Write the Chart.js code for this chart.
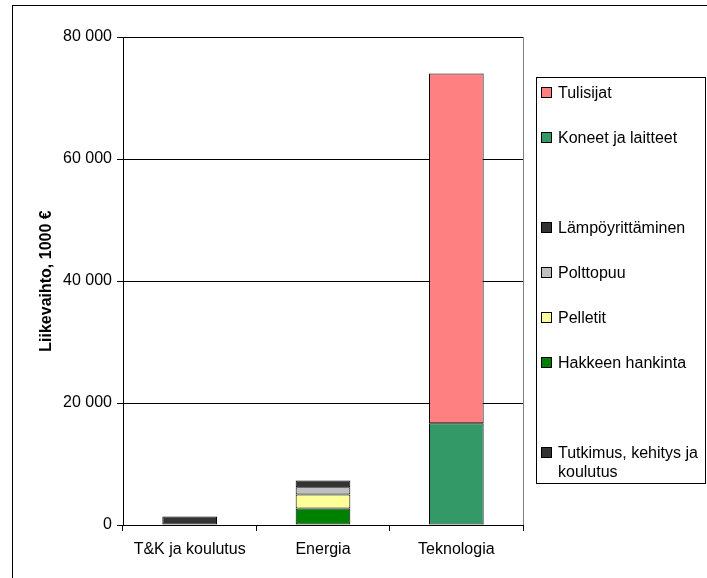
<!DOCTYPE html>
<html>
<head>
<meta charset="utf-8">
<script src="https://cdn.jsdelivr.net/npm/chart.js@4/dist/chart.umd.min.js"></script>
<style>
  html, body { margin: 0; padding: 0; background: #fff; }
  #wrap { width: 707px; height: 578px; }
</style>
</head>
<body>
<div id="wrap"><canvas id="c" width="707" height="578"></canvas></div>
<script>
// Liikevaihto (1000 €) by sector and sub-branch
const categories = ['T&K ja koulutus', 'Energia', 'Teknologia'];
const tutkimus = [1400, null, null];
const hakkeenHankinta = [null, 2700, null];
const pelletit = [null, 2300, null];
const polttopuu = [null, 1200, null];
const lampoyrittaminen = [null, 1100, null];
const koneetJaLaitteet = [null, null, 16700];
const tulisijat = [null, null, 57300];
const emptySeries = [null, null, null];
const yTicks = [0, 20000, 40000, 60000, 80000];

const FONT = '"Liberation Sans", Arial, sans-serif';

function fmt(v) {
  return String(v).replace(/\B(?=(\d{3})+(?!\d))/g, ' ');
}

// Outer frame and plot-area outline
const framePlugin = {
  id: 'frame',
  beforeDraw(chart) {
    const ctx = chart.ctx;
    ctx.save();
    ctx.fillStyle = '#fff';
    ctx.fillRect(0, 0, chart.width, chart.height);
    ctx.strokeStyle = '#000';
    ctx.lineWidth = 1;
    ctx.strokeRect(12.5, 5.5, 760, 640);
    ctx.restore();
  },
  beforeDatasetsDraw(chart) {
    const a = chart.chartArea;
    const ctx = chart.ctx;
    ctx.save();
    ctx.strokeStyle = '#808080';
    ctx.lineWidth = 1;
    ctx.beginPath();
    ctx.moveTo(Math.round(a.right) + 0.5, a.top);
    ctx.lineTo(Math.round(a.right) + 0.5, a.bottom);
    ctx.stroke();
    ctx.restore();
  }
};

// Boxed legend in the right margin, series listed top-down as stacked
const boxLegend = {
  id: 'boxLegend',
  afterDraw(chart) {
    const ctx = chart.ctx;
    const left = 536.5, top = 77.5, w = 169, h = 406;
    ctx.save();
    ctx.strokeStyle = '#000';
    ctx.lineWidth = 1;
    ctx.strokeRect(left, top, w, h);
    ctx.font = '16px ' + FONT;
    ctx.textBaseline = 'middle';
    ctx.textAlign = 'left';
    const items = chart.data.datasets.slice().reverse();
    const textX = 558, maxW = left + w - textX - 2;
    items.forEach((ds, i) => {
      if (!ds.label) return;
      const cy = 93 + i * 45;
      ctx.fillStyle = ds.backgroundColor;
      ctx.fillRect(542, cy - 5, 9, 9);
      ctx.strokeStyle = '#000';
      ctx.strokeRect(541.5, cy - 5.5, 10, 10);
      // simple word wrap
      const words = ds.label.split(' ');
      const lines = [];
      let line = '';
      words.forEach(wd => {
        const test = line ? line + ' ' + wd : wd;
        if (ctx.measureText(test).width > maxW && line) {
          lines.push(line);
          line = wd;
        } else {
          line = test;
        }
      });
      if (line) lines.push(line);
      ctx.fillStyle = '#000';
      lines.forEach((ln, j) => ctx.fillText(ln, textX, cy + 1 + j * 19));
    });
    ctx.restore();
  }
};

const seg = (label, data, color) => ({
  label, data,
  backgroundColor: color,
  borderColor: '#000',
  borderWidth: 1,
  borderSkipped: false
});

new Chart(document.getElementById('c'), {
  type: 'bar',
  data: {
    labels: categories,
    datasets: [
      seg('Tutkimus, kehitys ja koulutus', tutkimus, '#333333'),
      seg('', emptySeries, '#ffffff'),
      seg('Hakkeen hankinta', hakkeenHankinta, '#008000'),
      seg('Pelletit', pelletit, '#FFFF99'),
      seg('Polttopuu', polttopuu, '#C0C0C0'),
      seg('Lämpöyrittäminen', lampoyrittaminen, '#333333'),
      seg('', emptySeries, '#ffffff'),
      seg('Koneet ja laitteet', koneetJaLaitteet, '#339966'),
      seg('Tulisijat', tulisijat, '#FF8080')
    ]
  },
  options: {
    responsive: false,
    animation: false,
    devicePixelRatio: 1,
    layout: { padding: { top: 37, right: 184, bottom: 0, left: 0 } },
    datasets: { bar: { categoryPercentage: 1, barPercentage: 0.41 } },
    plugins: {
      legend: { display: false },
      tooltip: { enabled: false }
    },
    scales: {
      x: {
        stacked: true,
        offset: true,
        afterFit(s) { s.height = 53; },
        grid: { display: true, drawOnChartArea: false, drawTicks: true, tickLength: 6, color: '#000', offset: true },
        border: { display: true, color: '#000', width: 1 },
        ticks: { color: '#000', font: { family: FONT, size: 16 }, padding: 9, maxRotation: 0, autoSkip: false }
      },
      y: {
        stacked: true,
        min: 0,
        max: 80000,
        afterFit(s) { s.width = 123; },
        afterBuildTicks(s) { s.ticks = yTicks.map(v => ({ value: v })); },
        grid: { color: '#000', lineWidth: 1, drawTicks: true, tickLength: 6 },
        border: { display: true, color: '#000', width: 1 },
        ticks: { color: '#000', font: { family: FONT, size: 16 }, padding: 5, callback: v => fmt(v) },
        title: {
          display: true,
          text: 'Liikevaihto, 1000 €',
          color: '#000',
          font: { family: FONT, size: 16, weight: 'bold' },
          padding: { top: 37, bottom: 0 }
        }
      }
    }
  },
  plugins: [framePlugin, boxLegend]
});
</script>
</body>
</html>
